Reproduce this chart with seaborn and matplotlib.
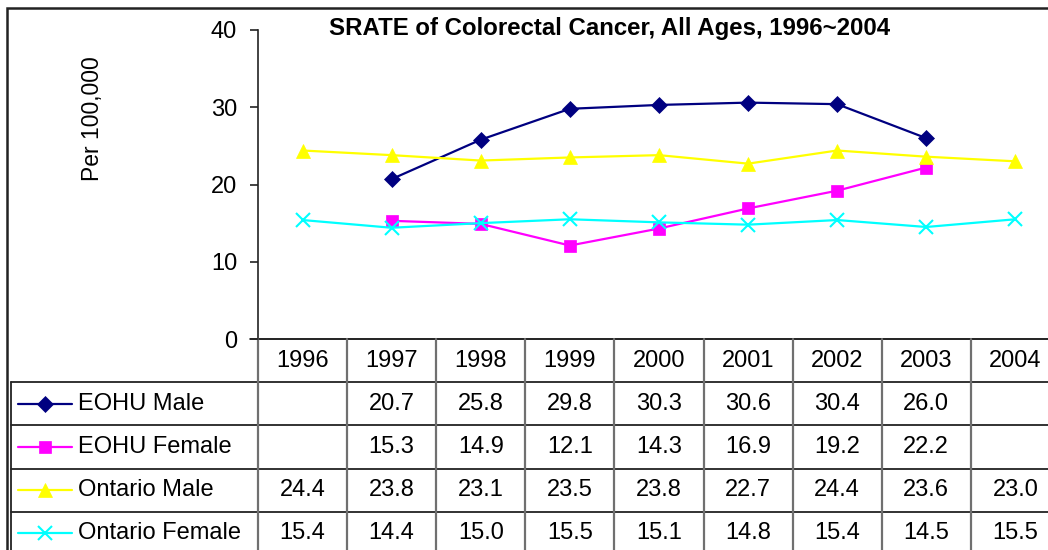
import numpy as np
import pandas as pd
import seaborn as sns
import matplotlib.pyplot as plt
from matplotlib.patches import Rectangle

years = ["1996", "1997", "1998", "1999", "2000", "2001", "2002", "2003", "2004"]
series_names = ["EOHU Male", "EOHU Female", "Ontario Male", "Ontario Female"]
eohu_male = [np.nan, 20.7, 25.8, 29.8, 30.3, 30.6, 30.4, 26.0, np.nan]
eohu_female = [np.nan, 15.3, 14.9, 12.1, 14.3, 16.9, 19.2, 22.2, np.nan]
ontario_male = [24.4, 23.8, 23.1, 23.5, 23.8, 22.7, 24.4, 23.6, 23.0]
ontario_female = [15.4, 14.4, 15.0, 15.5, 15.1, 14.8, 15.4, 14.5, 15.5]
y_ticks = [0, 10, 20, 30, 40]

colors = ["#000080", "#FF00FF", "#FFFF00", "#00FFFF"]
markers = ["D", "s", "^", "x"]
msizes = [8.3, 8.8, 10.5, 9.5]

sns.set_theme(style="white")
plt.rcParams["font.family"] = ["Liberation Sans", "DejaVu Sans"]
plt.rcParams["text.color"] = "black"
plt.rcParams["ytick.labelcolor"] = "black"

W, H = 1048, 550
fig = plt.figure(figsize=(W / 100, H / 100), dpi=100)

# geometry in pixels
x_left, col_w = 258, 89.1
y_top, y_zero = 30, 339
row_h = 43.2
fs = 17

ax = fig.add_axes([x_left / W, 1 - y_zero / H, 9 * col_w / W, (y_zero - y_top) / H])
df = pd.DataFrame({"pos": np.arange(len(years))})
all_vals = [eohu_male, eohu_female, ontario_male, ontario_female]
for name, vals, c, m, ms in zip(series_names, all_vals, colors, markers, msizes):
    df[name] = vals
    sub = df[["pos", name]].dropna()
    sns.lineplot(x=sub["pos"], y=sub[name], ax=ax, color=c, marker=m, markersize=ms,
                 markeredgecolor=c, markeredgewidth=1.5 if m == "x" else 0.5,
                 linewidth=1.6, legend=False, clip_on=False)

ax.set_xlim(-0.5, 8.5)
ax.set_ylim(0, 40)
ax.set_yticks(y_ticks)
ax.set_yticklabels([str(t) for t in y_ticks], fontsize=fs, color="black")
ax.set_xticks([])
ax.set_xlabel("")
ax.set_ylabel("")
for s in ["top", "right", "bottom"]:
    ax.spines[s].set_visible(False)
ax.spines["left"].set_color("#222222")
ax.spines["left"].set_linewidth(1.2)
ax.tick_params(axis="y", direction="out", length=6, width=1.2, color="#222222", pad=9, left=True)

fig.text(93 / W, 1 - 119 / H, "Per 100,000", rotation=90, ha="center", va="center", fontsize=16.5)
fig.text(610 / W, 1 - 29 / H, "SRATE of Colorectal Cancer, All Ages, 1996~2004",
         ha="center", va="center", fontsize=17.3, fontweight="bold")

# data table below the plot
tax = fig.add_axes([x_left / W, 1 - (y_zero + 5 * row_h) / H, 9 * col_w / W, 5 * row_h / H])
tax.set_xlim(-0.5, 8.5)
tax.set_ylim(5, 0)
tax.axis("off")


def px(x):
    return -0.5 + (x - x_left) / col_w


left_edge = px(11)
# horizontal lines
tax.plot([-0.5, 8.5], [0, 0], color="#222222", lw=1.4, clip_on=False)
for r in range(1, 5):
    tax.plot([left_edge, 8.5], [r, r], color="#222222", lw=1.3, clip_on=False)
# vertical lines
for c in range(9):
    tax.plot([c - 0.5, c - 0.5], [0, 5], color="#707070", lw=1.6, clip_on=False)
tax.plot([left_edge, left_edge], [1, 5], color="#222222", lw=1.3, clip_on=False)
# 0 tick continuation
tax.plot([px(250), -0.5], [0, 0], color="#222222", lw=1.2, clip_on=False)

for i, yr in enumerate(years):
    tax.text(i, 0.5, yr, ha="center", va="center", fontsize=fs)

for r, (name, vals, c, m, ms) in enumerate(zip(series_names, all_vals, colors, markers, msizes)):
    yy = r + 1.5
    tax.plot([px(18), px(72)], [yy, yy], color=c, lw=1.6, clip_on=False)
    tax.plot([px(45)], [yy], marker=m, color=c, markersize=ms, markeredgecolor=c,
             markeredgewidth=1.5 if m == "x" else 0.5, clip_on=False)
    tax.text(px(78), yy, name, ha="left", va="center", fontsize=fs)
    for i, v in enumerate(vals):
        if not np.isnan(v):
            tax.text(i, yy, f"{v:.1f}", ha="center", va="center", fontsize=fs)

# outer chart border
fig.patches.append(Rectangle((7 / W, -0.1), 1.2, 1.1 - 8 / H, transform=fig.transFigure,
                             fill=False, edgecolor="#222222", linewidth=1.8))

fig.savefig("out.png", dpi=100)
